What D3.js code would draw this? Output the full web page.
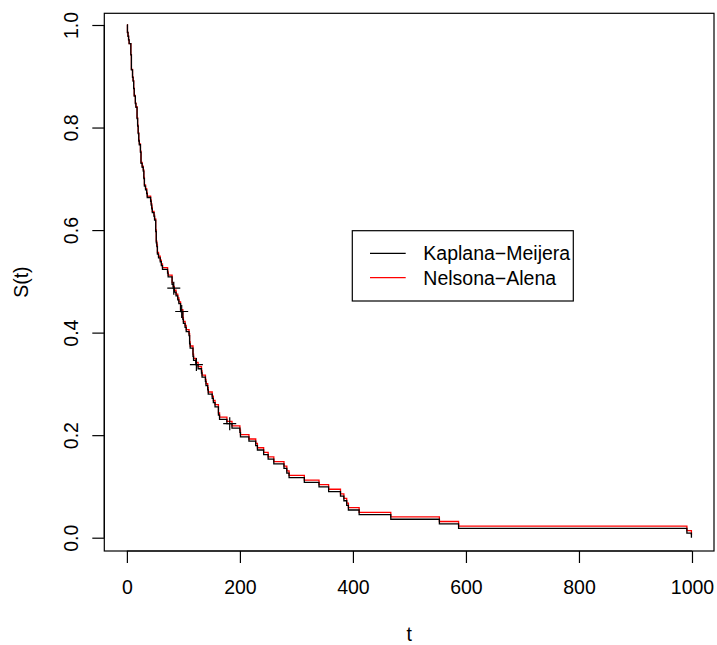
<!DOCTYPE html>
<html>
<head>
<meta charset="utf-8">
<script src="https://cdn.jsdelivr.net/npm/d3@7/dist/d3.min.js"></script>
<style>
  html, body { margin: 0; padding: 0; background: #fff; }
  svg { display: block; }
  text { font-family: "Liberation Sans", Arial, Helvetica, sans-serif; fill: #000; }
</style>
</head>
<body>
<svg id="chart" width="717" height="645"></svg>
<script>
// Survival times (days) and status (1 = death, 0 = censored), two treatment arms
const timeArm1 = [72, 411, 228, 126, 118, 10, 82, 110, 314, 100, 42, 8, 144, 25, 11, 30, 384, 4, 54, 13,
  123, 97, 153, 59, 117, 16, 151, 22, 56, 21, 18, 139, 20, 31, 52, 287, 18, 51, 122, 27,
  54, 7, 63, 392, 10, 8, 92, 35, 117, 132, 12, 162, 3, 95, 177, 162, 216, 553, 278, 12,
  260, 200, 156, 182, 143, 105, 103, 250, 100];
const statusArm1 = [1, 1, 1, 1, 1, 1, 1, 1, 1, 0, 1, 1, 1, 0, 1, 1, 1, 1, 1, 1,
  0, 0, 1, 1, 1, 1, 1, 1, 1, 1, 1, 1, 1, 1, 1, 1, 1, 1, 1, 1,
  1, 1, 1, 1, 1, 1, 1, 1, 1, 1, 1, 1, 1, 1, 1, 1, 1, 1, 1, 1,
  1, 1, 1, 0, 1, 1, 1, 1, 1];
const timeArm2 = [999, 112, 87, 231, 242, 991, 111, 1, 587, 389, 33, 25, 357, 467, 201, 1, 30, 44, 283, 15,
  25, 103, 21, 13, 87, 2, 20, 7, 24, 99, 8, 99, 61, 25, 95, 80, 51, 29, 24, 18,
  83, 31, 51, 90, 52, 73, 8, 36, 48, 7, 140, 186, 84, 19, 45, 80, 52, 164, 19, 53,
  15, 43, 340, 133, 111, 231, 378, 49];
const statusArm2 = [1, 1, 0, 0, 1, 1, 1, 1, 1, 1, 1, 1, 1, 1, 1, 1, 1, 1, 1, 1,
  1, 0, 1, 1, 1, 1, 1, 1, 1, 1, 1, 1, 1, 1, 1, 1, 1, 1, 1, 1,
  0, 1, 1, 1, 1, 1, 1, 1, 1, 1, 1, 1, 1, 1, 1, 1, 1, 1, 1, 1,
  1, 1, 1, 1, 1, 1, 1, 1];

const xTicks = [0, 200, 400, 600, 800, 1000];
const yTicks = [0, 0.2, 0.4, 0.6, 0.8, 1.0];
const seriesNames = ["Kaplana\u2212Meijera", "Nelsona\u2212Alena"];
const seriesColors = ["#000000", "#ff0000"];
const xTitle = "t";
const yTitle = "S(t)";

// ---- estimators: product-limit and exp(-cumulative hazard) ----
const times = timeArm1.concat(timeArm2);
const status = statusArm1.concat(statusArm2);
const distinct = Array.from(new Set(times)).sort((a, b) => a - b);

let atRisk = times.length, S = 1, H = 0;
const km = [{ t: 0, s: 1 }], na = [{ t: 0, s: 1 }], censorMarks = [];
distinct.forEach(t => {
  let d = 0, c = 0;
  times.forEach((v, i) => { if (v === t) { if (status[i] === 1) d++; else c++; } });
  if (d > 0) {
    S *= 1 - d / atRisk;
    H += d / atRisk;
    km.push({ t, s: S });
    na.push({ t, s: Math.exp(-H) });
  } else if (c > 0) {
    // tick marks at the time points that hold censored observations only
    censorMarks.push({ t, s: S });
  }
  atRisk -= d + c;
});

// ---- layout ----
const svg = d3.select("#chart");
const box = { left: 104.3, right: 714, top: 13.3, bottom: 551 };
const x = d3.scaleLinear().domain([-39.96, 1038.96]).range([box.left, box.right]);
const y = d3.scaleLinear().domain([0, 1]).range([537.7, 25]);
const FS = 19.5;

// frame
svg.append("rect")
  .attr("x", box.left).attr("y", box.top)
  .attr("width", box.right - box.left).attr("height", box.bottom - box.top)
  .attr("fill", "none").attr("stroke", "#000").attr("stroke-width", 1.2);

// x axis
const gx = svg.append("g").attr("transform", `translate(0,${box.bottom})`);
gx.call(d3.axisBottom(x).tickValues(xTicks).tickSize(12).tickPadding(0).tickFormat(d3.format("d")));
gx.select(".domain").attr("d", `M${x(xTicks[0])},0H${x(xTicks[xTicks.length - 1])}`).attr("stroke-width", 1.2);
gx.selectAll(".tick line").attr("stroke-width", 1.2);
gx.selectAll(".tick text").attr("y", 43).attr("dy", null)
  .attr("font-size", FS).attr("font-family", "Liberation Sans, Arial, sans-serif");

// y axis
const gy = svg.append("g").attr("transform", `translate(${box.left},0)`);
gy.call(d3.axisLeft(y).tickValues(yTicks).tickSize(12).tickFormat(d3.format(".1f")));
gy.select(".domain").attr("d", `M0,${y(yTicks[0])}V${y(yTicks[yTicks.length - 1])}`).attr("stroke-width", 1.2);
gy.selectAll(".tick line").attr("stroke-width", 1.2);
gy.selectAll(".tick text")
  .attr("x", null).attr("dy", null)
  .attr("text-anchor", "middle")
  .attr("transform", "translate(-26.3,0) rotate(-90)")
  .attr("font-size", FS).attr("font-family", "Liberation Sans, Arial, sans-serif");

// axis titles
svg.append("text").attr("x", (box.left + box.right) / 2).attr("y", 641)
  .attr("text-anchor", "middle").attr("font-size", FS).text(xTitle);
svg.append("text")
  .attr("transform", `translate(28,${(box.top + box.bottom) / 2}) rotate(-90)`)
  .attr("text-anchor", "middle").attr("font-size", FS).text(yTitle);

// step curves
const step = d3.line().x(d => x(d.t)).y(d => y(d.s)).curve(d3.curveStepAfter);
svg.append("path").datum(na).attr("d", step)
  .attr("fill", "none").attr("stroke", seriesColors[1]).attr("stroke-width", 1.3);
svg.append("path").datum(km).attr("d", step)
  .attr("fill", "none").attr("stroke", seriesColors[0]).attr("stroke-width", 1.3);

// censoring marks on the product-limit curve
const m = 6.5;
svg.append("g").selectAll("path").data(censorMarks).join("path")
  .attr("d", d => `M${x(d.t) - m},${y(d.s)}H${x(d.t) + m}M${x(d.t)},${y(d.s) - m}V${y(d.s) + m}`)
  .attr("stroke", "#000").attr("stroke-width", 1.2).attr("fill", "none");

// legend
const lg = { left: 352.3, right: 573.3, top: 230.7, bottom: 301 };
svg.append("rect").attr("x", lg.left).attr("y", lg.top)
  .attr("width", lg.right - lg.left).attr("height", lg.bottom - lg.top)
  .attr("fill", "#fff").attr("stroke", "#000").attr("stroke-width", 1.2);
const rowY = [253.3, 277.7];
seriesNames.forEach((name, i) => {
  svg.append("line").attr("x1", 370).attr("x2", 405.7).attr("y1", rowY[i]).attr("y2", rowY[i])
    .attr("stroke", seriesColors[i]).attr("stroke-width", 1.3);
  svg.append("text").attr("x", 423.3).attr("y", rowY[i] + 7)
    .attr("font-size", FS).text(name);
});
</script>
</body>
</html>
